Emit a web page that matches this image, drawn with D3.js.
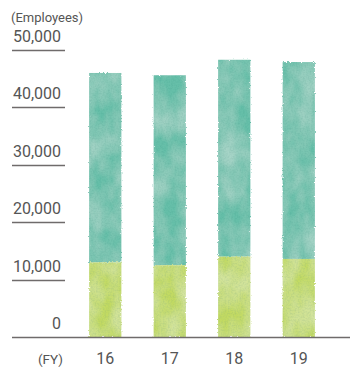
<!DOCTYPE html>
<html>
<head>
<meta charset="utf-8">
<script src="https://cdn.jsdelivr.net/npm/d3@7"></script>
<style>
  html, body { margin: 0; padding: 0; background: #fff; }
  svg { display: block; }
  text { font-family: Roboto, "Liberation Sans", Arial, sans-serif; fill: #555; font-weight: 400; }
</style>
</head>
<body>
<svg id="chart" width="350" height="368"></svg>
<script>
// Fiscal years and employee counts (lower = green segment, total = top of bar)
const years = ["16", "17", "18", "19"];
const lowerSegment = [13000, 12500, 14000, 13600];
const totalEmployees = [46000, 45600, 48300, 47900];
const yTicks = [0, 10000, 20000, 30000, 40000, 50000];

const svg = d3.select("#chart");
const defs = svg.append("defs");

// Watercolour look: ragged edges plus soft light/dark blotches
const f = defs.append("filter").attr("id", "wc")
  .attr("x", "-10%").attr("y", "-5%").attr("width", "120%").attr("height", "110%");
f.append("feTurbulence").attr("type", "fractalNoise").attr("baseFrequency", 0.8)
  .attr("numOctaves", 2).attr("seed", 3).attr("result", "edge");
f.append("feDisplacementMap").attr("in", "SourceGraphic").attr("in2", "edge")
  .attr("scale", 2.5).attr("xChannelSelector", "R").attr("yChannelSelector", "G")
  .attr("result", "rough");
f.append("feTurbulence").attr("type", "fractalNoise").attr("baseFrequency", "0.05 0.03")
  .attr("numOctaves", 3).attr("seed", 11).attr("result", "blot");
f.append("feColorMatrix").attr("in", "blot").attr("type", "matrix")
  .attr("values", "0 0 0 0 1  0 0 0 0 1  0 0 0 0 1  0.45 0 0 0 -0.12")
  .attr("result", "light");
f.append("feComposite").attr("in", "light").attr("in2", "rough")
  .attr("operator", "atop").attr("result", "lit");
f.append("feTurbulence").attr("type", "fractalNoise").attr("baseFrequency", "0.6")
  .attr("numOctaves", 2).attr("seed", 5).attr("result", "grain");
f.append("feColorMatrix").attr("in", "grain").attr("type", "matrix")
  .attr("values", "0 0 0 0 0  0 0 0 0 0.25  0 0 0 0 0.2  0 0.4 0 0 -0.15")
  .attr("result", "dark");
f.append("feComposite").attr("in", "dark").attr("in2", "lit")
  .attr("operator", "atop");

const y = d3.scaleLinear().domain([0, 50000]).range([337, 50]);
const x = d3.scaleBand().domain(years).range([73, 331])
  .paddingInner(0.5).paddingOuter(0.25);

// Y axis: right-aligned labels, each sitting on a short rule
const yAxis = svg.append("g");
yAxis.selectAll("line.tick").data(yTicks.filter(d => d > 0)).join("line")
  .attr("class", "tick")
  .attr("x1", 12).attr("x2", 65)
  .attr("y1", d => Math.round(y(d)) + 0.5).attr("y2", d => Math.round(y(d)) + 0.5)
  .attr("stroke", "#6f6b6b").attr("stroke-width", 1.3);
yAxis.selectAll("text").data(yTicks).join("text")
  .attr("x", 61).attr("y", d => y(d) - 8)
  .attr("text-anchor", "end")
  .attr("font-size", 16)
  .text(d => d3.format(",")(d));

svg.append("text").attr("x", 11).attr("y", 22)
  .attr("font-size", 13).text("(Employees)");

// Bars: green lower part, teal remainder on top
const bars = svg.append("g").attr("filter", "url(#wc)");
bars.selectAll("rect.upper").data(years).join("rect")
  .attr("class", "upper")
  .attr("x", d => x(d)).attr("width", x.bandwidth())
  .attr("y", (d, i) => y(totalEmployees[i]))
  .attr("height", (d, i) => y(lowerSegment[i]) - y(totalEmployees[i]))
  .attr("fill", "#66bfa9");
bars.selectAll("rect.lower").data(years).join("rect")
  .attr("class", "lower")
  .attr("x", d => x(d)).attr("width", x.bandwidth())
  .attr("y", (d, i) => y(lowerSegment[i]))
  .attr("height", (d, i) => y(0) - y(lowerSegment[i]))
  .attr("fill", "#c2da62");

// Baseline
svg.append("line")
  .attr("x1", 12).attr("x2", 350)
  .attr("y1", Math.round(y(0)) + 0.5).attr("y2", Math.round(y(0)) + 0.5)
  .attr("stroke", "#6f6b6b").attr("stroke-width", 1.3);

// X axis labels
svg.selectAll("text.year").data(years).join("text")
  .attr("class", "year")
  .attr("x", d => x(d) + x.bandwidth() / 2).attr("y", 364)
  .attr("text-anchor", "middle").attr("font-size", 16)
  .text(d => d);
svg.append("text").attr("x", 63).attr("y", 364)
  .attr("text-anchor", "end").attr("font-size", 13.5).text("(FY)");
</script>
</body>
</html>
